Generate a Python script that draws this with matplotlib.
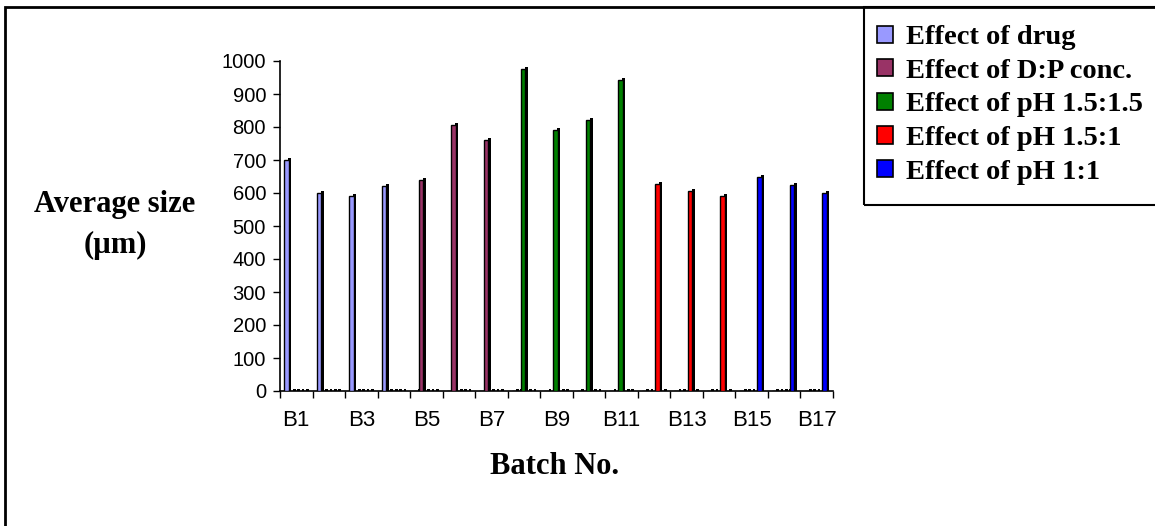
import numpy as np
import matplotlib
matplotlib.use("Agg")
import matplotlib.pyplot as plt
from matplotlib.patches import Rectangle, Patch

# average size per batch, one list per study series (0 = batch not in series)
batches = ["B%d" % i for i in range(1, 18)]
series_names = ["Effect of drug", "Effect of D:P conc.", "Effect of pH 1.5:1.5",
                "Effect of pH 1.5:1", "Effect of pH 1:1"]
drug_eff = [700, 600, 590, 620, 0, 0, 0, 0, 0, 0, 0, 0, 0, 0, 0, 0, 0]
dp_conc = [0, 0, 0, 0, 640, 805, 762, 0, 0, 0, 0, 0, 0, 0, 0, 0, 0]
ph_15_15 = [0, 0, 0, 0, 0, 0, 0, 975, 790, 820, 942, 0, 0, 0, 0, 0, 0]
ph_15_1 = [0, 0, 0, 0, 0, 0, 0, 0, 0, 0, 0, 628, 607, 590, 0, 0, 0]
ph_1_1 = [0, 0, 0, 0, 0, 0, 0, 0, 0, 0, 0, 0, 0, 0, 650, 625, 600]
yticks = list(range(0, 1001, 100))

colors = ["#9999FF", "#993366", "#008000", "#FF0000", "#0000FF"]
all_series = [drug_eff, dp_conc, ph_15_15, ph_15_1, ph_1_1]

W, H = 1155, 526
fig = plt.figure(figsize=(W / 100, H / 100), dpi=100)
ax = fig.add_axes([280 / W, 1 - 391 / H, (833 - 280) / W, (391 - 61) / H])

serif_b = {"family": "Liberation Serif", "weight": "bold"}
idx = np.arange(len(batches))
step = 0.135
for k, vals in enumerate(all_series):
    vals = np.array(vals, dtype=float)
    xc = idx + (k - 2) * step
    # front face
    ax.bar(xc - 0.035, vals, width=0.14, color=colors[k], edgecolor="black",
           linewidth=1.0, zorder=3)
    # dark side of the column, a little taller for the top cap
    ax.bar(xc + 0.07, vals + 6, width=0.085, color="black", linewidth=0,
           zorder=2)

ax.set_xlim(-0.5, len(batches) - 0.5)
ax.set_ylim(0, 1000)
ax.set_yticks(yticks)
ax.set_yticklabels([str(v) for v in yticks], family="Liberation Sans", fontsize=14.5)
ax.set_xticks(idx[::2])
ax.set_xticklabels(batches[::2], family="Liberation Sans", fontsize=16)
ax.set_xticks(np.arange(-0.5, len(batches), 1), minor=True)
ax.tick_params(axis="x", which="major", length=0, pad=14)
ax.tick_params(axis="x", which="minor", length=5, width=1, direction="out")
ax.tick_params(axis="y", length=5, width=1, direction="out", pad=5)
for s in ["top", "right"]:
    ax.spines[s].set_visible(False)
for s in ["left", "bottom"]:
    ax.spines[s].set_linewidth(1.2)

fig.text(115 / W, 1 - 225 / H, "Average size\n(\u00b5m)", ha="center", va="center",
         fontsize=22, linespacing=1.5, **serif_b)
fig.text(555 / W, 1 - 466 / H, "Batch No.", ha="center", va="center",
         fontsize=22, **serif_b)

# outer frame and legend box
fig.patches.append(Rectangle((5 / W, -0.2), 1.2, 1 - 7 / H + 0.2, fill=False,
                             lw=2, edgecolor="black", transform=fig.transFigure))
fig.patches.append(Rectangle((864 / W, 1 - 205 / H), 1.0, 205 / H - 7 / H,
                             fill=False, lw=1.5, edgecolor="black",
                             transform=fig.transFigure))

handles = [Patch(facecolor=c, edgecolor="black", linewidth=1.2) for c in colors]
fig.legend(handles, series_names, loc="upper left",
           bbox_to_anchor=(866 / W, 1 - 14 / H), frameon=False,
           prop={"family": "Liberation Serif", "weight": "bold", "size": 20.5},
           handlelength=0.55, handleheight=0.55, handletextpad=0.45,
           labelspacing=0.3, borderaxespad=0)

fig.savefig("out.png", dpi=100)
